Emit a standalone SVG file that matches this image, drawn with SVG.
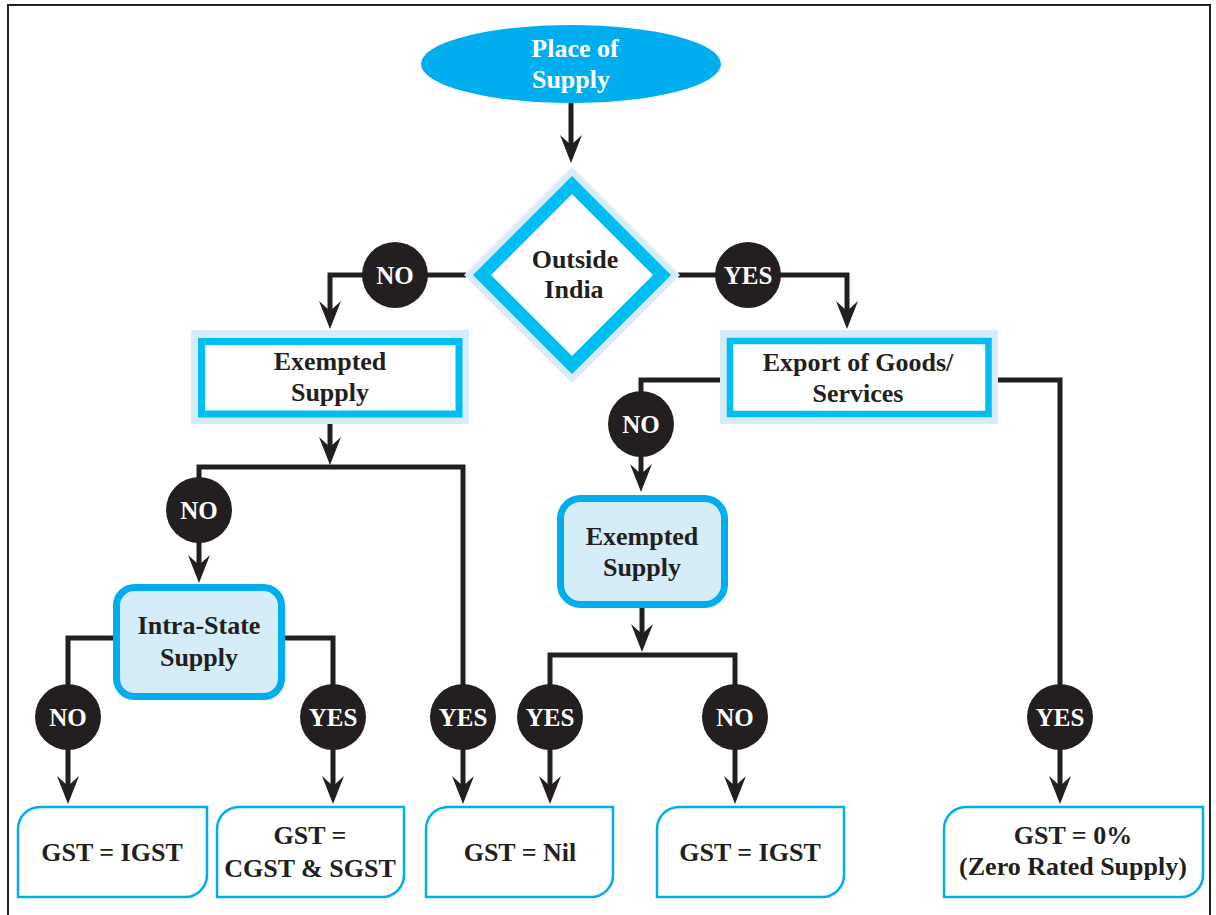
<svg xmlns="http://www.w3.org/2000/svg" width="1216" height="915" viewBox="0 0 1216 915">
<defs>
<style>
.t{font-family:"Liberation Serif","Times New Roman",serif;font-weight:bold;font-size:26px;fill:#231f20;text-anchor:middle}
.w{fill:#ffffff}
.c{font-size:25px}
.ln{fill:none;stroke:#231f20;stroke-width:5;stroke-linejoin:miter}
.dot{fill:#231f20}
.halo{fill:#d4edf9}
.leaf{fill:#ffffff;stroke:#00aeef;stroke-width:2.5}
</style>
<marker id="ah" markerUnits="userSpaceOnUse" viewBox="-12 -12 32 24" refX="0" refY="0" markerWidth="32" markerHeight="24" orient="auto">
<path d="M18,0 L-10,-11 L0,0 L-10,11 Z" fill="#231f20"/>
</marker>
</defs>
<rect width="1216" height="915" fill="#ffffff"/>
<path d="M8,920 V5 H1210 V920" fill="none" stroke="#231f20" stroke-width="2"/>

<g id="connectors">
<path class="ln" d="M571,103 V145" marker-end="url(#ah)"/>
<path class="ln" d="M466,275 H330 V311" marker-end="url(#ah)"/>
<path class="ln" d="M678,275 H847 V311" marker-end="url(#ah)"/>
<path class="ln" d="M330,424 V447" marker-end="url(#ah)"/>
<path class="ln" d="M330,467 H199 V565" marker-end="url(#ah)"/>
<path class="ln" d="M330,467 H463 V786" marker-end="url(#ah)"/>
<path class="ln" d="M116,638 H68 V786" marker-end="url(#ah)"/>
<path class="ln" d="M282,638 H333 V786" marker-end="url(#ah)"/>
<path class="ln" d="M720,380 H641 V474" marker-end="url(#ah)"/>
<path class="ln" d="M998,380 H1060 V786" marker-end="url(#ah)"/>
<path class="ln" d="M642,608 V634" marker-end="url(#ah)"/>
<path class="ln" d="M642,655 H550 V786" marker-end="url(#ah)"/>
<path class="ln" d="M642,655 H735 V786" marker-end="url(#ah)"/>
</g>

<g id="start">
<ellipse cx="571" cy="64" rx="150" ry="39" fill="#00aeef"/>
<text class="t w" x="575" y="57">Place of</text>
<text class="t w" x="571" y="88">Supply</text>
</g>

<g id="outside-india">
<polygon class="halo" points="572,167 680,275 572,383 464,275"/>
<polygon points="572,176 671,275 572,374 473,275" fill="#00bdf2"/>
<polygon points="572,194 653,275 572,356 491,275" fill="#ffffff"/>
<text class="t" x="575" y="268">Outside</text>
<text class="t" x="574" y="298">India</text>
</g>

<g id="lbl-no-1"><circle class="dot" cx="395" cy="275" r="33"/><text class="t w c" x="395" y="284">NO</text></g>
<g id="lbl-yes-1"><circle class="dot" cx="748" cy="275" r="33"/><text class="t w c" x="748" y="284">YES</text></g>

<g id="exempted-1">
<rect class="halo" x="191" y="330" width="278" height="94"/>
<rect x="201.5" y="341.5" width="257.5" height="72.5" fill="#ffffff" stroke="#00bdf2" stroke-width="7"/>
<text class="t" x="330" y="370">Exempted</text>
<text class="t" x="330" y="401">Supply</text>
</g>

<g id="export">
<rect class="halo" x="720" y="330" width="278" height="94"/>
<rect x="730" y="341" width="258.5" height="73" fill="#ffffff" stroke="#00bdf2" stroke-width="6.5"/>
<text class="t" x="858" y="371">Export of Goods/</text>
<text class="t" x="858" y="402">Services</text>
</g>

<g id="lbl-no-2"><circle class="dot" cx="199" cy="510" r="33"/><text class="t w c" x="199" y="519">NO</text></g>
<g id="lbl-no-3"><circle class="dot" cx="641" cy="424" r="33"/><text class="t w c" x="641" y="433">NO</text></g>

<g id="intra-state">
<rect x="116.5" y="587.5" width="165" height="109" rx="18" fill="#d4edf9" stroke="#00aeef" stroke-width="7"/>
<text class="t" x="199" y="634">Intra-State</text>
<text class="t" x="199" y="666">Supply</text>
</g>

<g id="exempted-2">
<rect x="560.5" y="498.5" width="164" height="106" rx="20" fill="#d4edf9" stroke="#00aeef" stroke-width="7"/>
<text class="t" x="642" y="545">Exempted</text>
<text class="t" x="642" y="576">Supply</text>
</g>

<g id="lbl-no-4"><circle class="dot" cx="68" cy="717" r="33"/><text class="t w c" x="68" y="726">NO</text></g>
<g id="lbl-yes-2"><circle class="dot" cx="333" cy="717" r="33"/><text class="t w c" x="333" y="726">YES</text></g>
<g id="lbl-yes-3"><circle class="dot" cx="463" cy="717" r="33"/><text class="t w c" x="463" y="726">YES</text></g>
<g id="lbl-yes-4"><circle class="dot" cx="550" cy="717" r="33"/><text class="t w c" x="550" y="726">YES</text></g>
<g id="lbl-no-5"><circle class="dot" cx="735" cy="717" r="33"/><text class="t w c" x="735" y="726">NO</text></g>
<g id="lbl-yes-5"><circle class="dot" cx="1060" cy="717" r="33"/><text class="t w c" x="1060" y="726">YES</text></g>

<g id="out-igst-1">
<path class="leaf" d="M18,897 V829 A22,22 0 0 1 40,807 H207 V875 A22,22 0 0 1 185,897 Z"/>
<text class="t" x="112" y="861">GST = IGST</text>
</g>
<g id="out-cgst-sgst">
<path class="leaf" d="M217,897 V829 A22,22 0 0 1 239,807 H404 V875 A22,22 0 0 1 382,897 Z"/>
<text class="t" x="310" y="844">GST =</text>
<text class="t" x="310" y="877">CGST &amp; SGST</text>
</g>
<g id="out-nil">
<path class="leaf" d="M426,897 V829 A22,22 0 0 1 448,807 H613 V875 A22,22 0 0 1 591,897 Z"/>
<text class="t" x="520" y="861">GST = Nil</text>
</g>
<g id="out-igst-2">
<path class="leaf" d="M657,897 V829 A22,22 0 0 1 679,807 H844 V875 A22,22 0 0 1 822,897 Z"/>
<text class="t" x="750" y="861">GST = IGST</text>
</g>
<g id="out-zero">
<path class="leaf" d="M944,897 V829 A22,22 0 0 1 966,807 H1203 V875 A22,22 0 0 1 1181,897 Z"/>
<text class="t" x="1073" y="844">GST = 0%</text>
<text class="t" x="1073" y="875">(Zero Rated Supply)</text>
</g>
</svg>
